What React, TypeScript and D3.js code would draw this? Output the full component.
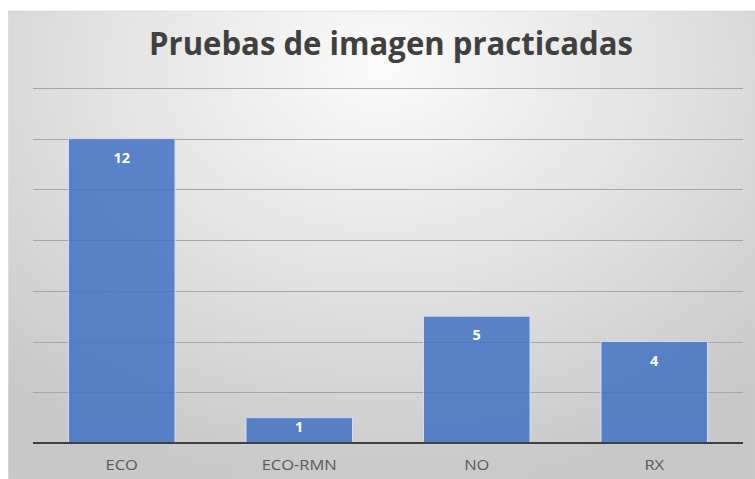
import React from "react";
import * as d3 from "d3";

const categories = ["ECO", "ECO-RMN", "NO", "RX"];
const values = [12, 1, 5, 4];
const gridTicks = [2, 4, 6, 8, 10, 12, 14];
const title = "Pruebas de imagen practicadas";

export default function App() {
  const W = 755, H = 479;
  const x = d3.scaleBand<string>().domain(categories).range([33, 743]).paddingInner(0.4).paddingOuter(0.2);
  const y = d3.scaleLinear().domain([0, 14]).range([443, 88]);
  const font = "'Open Sans', 'Noto Sans', sans-serif";
  return (
    <svg width={W} height={H} style={{ position: "absolute", left: 0, top: 0 }}>
      <defs>
        <radialGradient id="bg" cx="0.5" cy="0.12" r="0.75" gradientTransform="translate(0.5 0.12) scale(1 1.2) translate(-0.5 -0.12)">
          <stop offset="0" stopColor="#fbfbfb" />
          <stop offset="0.55" stopColor="#e0e0e0" />
          <stop offset="1" stopColor="#c8c8c8" />
        </radialGradient>
      </defs>
      <rect x={0} y={0} width={W} height={H} fill="#ffffff" />
      <rect x={8.5} y={11} width={W - 8.5} height={H - 11} fill="url(#bg)" stroke="#d0d0d0" strokeWidth={0.5} />
      <text x={391} y={55} textAnchor="middle" fontFamily={font} fontWeight={700} fontSize={32} fill="#404040" textLength={484} lengthAdjust="spacingAndGlyphs">
        {title}
      </text>
      {gridTicks.map((t) => (
        <line key={t} x1={33} x2={743} y1={Math.round(y(t)) + 0.5} y2={Math.round(y(t)) + 0.5} stroke="#a6a6a6" strokeWidth={1} />
      ))}
      {categories.map((c, i) => {
        const top = y(values[i]);
        const h = y(0) - top;
        const cx = (x(c) as number) + x.bandwidth() / 2;
        return (
          <g key={c}>
            <rect x={x(c)} y={top} width={x.bandwidth()} height={h} fill="#4472c4" fillOpacity={0.86} stroke="#cfdcf3" strokeWidth={1} />
            <text x={cx} y={top + Math.min(24, h * 0.55)} textAnchor="middle" fontFamily={font} fontWeight={700} fontSize={14.5} fill="#ffffff">
              {values[i]}
            </text>
            <text transform={`translate(${cx},470) scale(1.1,1)`} textAnchor="middle" fontFamily={font} fontSize={15} fill="#595959">
              {c}
            </text>
          </g>
        );
      })}
      <line x1={33} x2={743} y1={y(0)} y2={y(0)} stroke="#404040" strokeWidth={2.2} />
    </svg>
  );
}
